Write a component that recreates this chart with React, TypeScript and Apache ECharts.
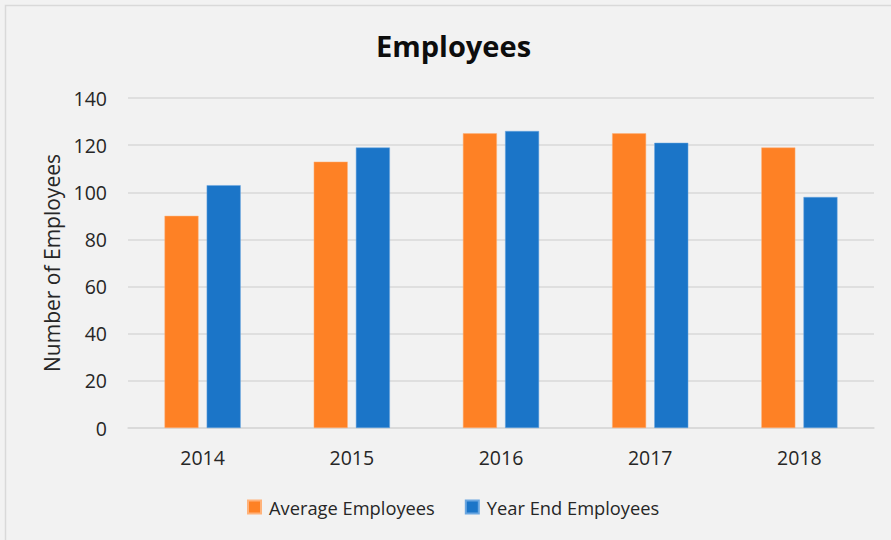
import React, { useEffect, useRef } from "react";
import * as echarts from "echarts";

const categories = ["2014", "2015", "2016", "2017", "2018"];
const averageEmployees = [90, 113, 125, 125, 119];
const yearEndEmployees = [103, 119, 126, 121, 98];
const seriesNames = ["Average Employees", "Year End Employees"];
const chartTitle = "Employees";
const yAxisTitle = "Number of Employees";

const FONT = "'Open Sans', 'Liberation Sans', sans-serif";

export default function App() {
  const ref = useRef<HTMLDivElement>(null);
  useEffect(() => {
    if (!ref.current) return;
    const chart = echarts.init(ref.current, undefined, { renderer: "svg" });
    chart.setOption({
      animation: false,
      backgroundColor: "#f2f2f2",
      textStyle: { fontFamily: FONT },
      title: {
        text: chartTitle,
        left: 371,
        top: 26,
        textStyle: { fontSize: 29, fontWeight: "bold", color: "#0d0d0d", fontFamily: FONT },
      },
      graphic: [
        {
          type: "rect",
          shape: { x: 5.5, y: 5.5, width: 950, height: 600 },
          style: { fill: "none", stroke: "#d9d9d9", lineWidth: 1.5 },
          silent: true,
        },
      ],
      legend: {
        data: seriesNames,
        left: 242,
        top: 493,
        itemWidth: 13,
        itemHeight: 13,
        itemGap: 30,
        icon: "rect",
        textStyle: { fontSize: 18.3, color: "#262626", fontFamily: FONT, padding: [0, 0, 0, 3] },
      },
      grid: { left: 128, right: 17, top: 98, bottom: 112, containLabel: false },
      xAxis: {
        type: "category",
        data: categories,
        axisLine: { show: true, lineStyle: { color: "#d9d9d9", width: 1.5 } },
        axisTick: { show: false },
        axisLabel: { fontSize: 19.5, color: "#262626", margin: 19, fontFamily: FONT },
      },
      yAxis: {
        type: "value",
        min: 0,
        max: 140,
        interval: 20,
        name: yAxisTitle,
        nameLocation: "middle",
        nameGap: 65,
        nameTextStyle: { fontSize: 21, color: "#262626", fontFamily: FONT },
        axisLine: { show: false },
        axisTick: { show: false },
        axisLabel: { fontSize: 19.5, color: "#262626", margin: 21, fontFamily: FONT },
        splitLine: { lineStyle: { color: "#d9d9d9", width: 1.5 } },
      },
      series: [
        {
          name: seriesNames[0],
          type: "bar",
          data: averageEmployees,
          barWidth: 34,
          barGap: "24%",
          itemStyle: { color: "#fe8125", borderColor: "#ffb27a", borderWidth: 0.5 },
        },
        {
          name: seriesNames[1],
          type: "bar",
          data: yearEndEmployees,
          barWidth: 34,
          barGap: "24%",
          itemStyle: { color: "#1b75c8", borderColor: "#6aa6e0", borderWidth: 0.5 },
        },
      ],
    });
    return () => chart.dispose();
  }, []);
  return (
    <div
      ref={ref}
      style={{ position: "fixed", left: 0, top: 0, width: 891, height: 540 }}
    />
  );
}
